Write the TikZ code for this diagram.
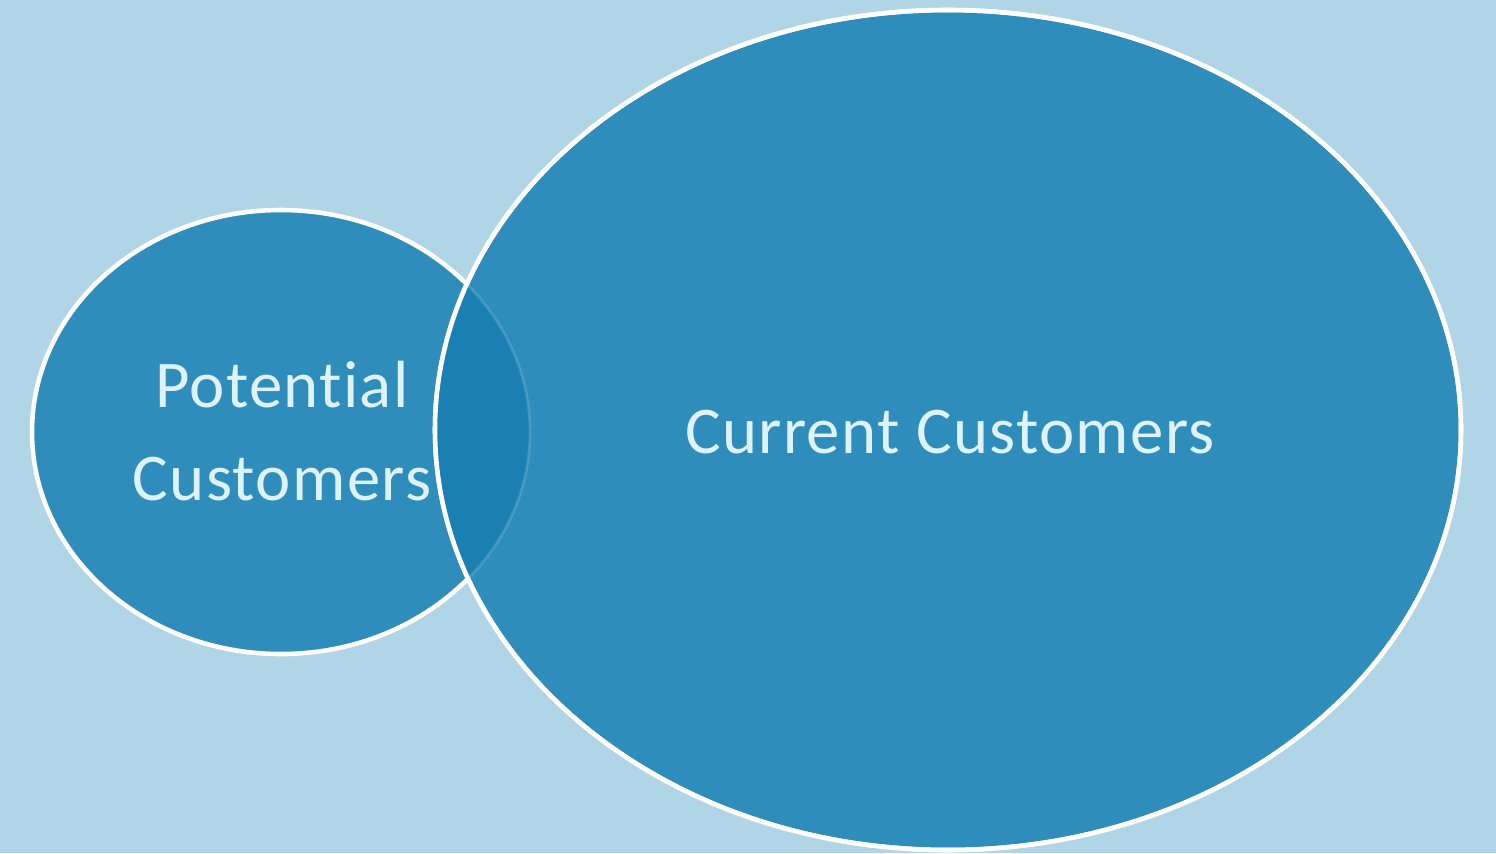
\documentclass[tikz,border=0pt]{standalone}
\usepackage{fontspec}
\setmainfont[Ligatures={NoCommon}, LetterSpace=2]{Carlito}
\usepackage{xcolor}
\usetikzlibrary{positioning,shapes.geometric}
\definecolor{bgblue}{HTML}{B0D5E6}
\definecolor{setblue}{HTML}{2E8DBA}
\definecolor{meetblue}{HTML}{1A80B2}
\definecolor{labelwhite}{HTML}{DDF2FA}
\tikzset{
    setrim/.style={draw=white, line width=1.3pt, fill=setblue},
    setlabel/.style={text=labelwhite, font=\fontsize{19}{26.7}\selectfont, align=center}
}

\begin{document}
\begin{tikzpicture}
    \fill[bgblue] (0, 0) rectangle (14.96, 8.53);
    \useasboundingbox (0, 0) rectangle (14.96, 8.53);
    % the two sets
    \draw[setrim] (2.81, 4.21) ellipse [x radius=2.49, y radius=2.22];
    \draw[setrim] (9.48, 4.23) ellipse [x radius=5.13, y radius=4.20];
    \begin{scope}
        \clip (2.81, 4.21) ellipse [x radius=2.49, y radius=2.22];
        \fill[meetblue] (9.48, 4.23) ellipse [x radius=5.13, y radius=4.20];
    \end{scope}
    \draw[white, opacity=0.15, line width=0.8pt] (2.81, 4.21) ellipse [x radius=2.49, y radius=2.22];
    \draw[white, line width=1.3pt] (9.48, 4.23) ellipse [x radius=5.13, y radius=4.20];
    % labels
    \node[setlabel] (potential) at (2.82, 4.22) {Potential\\Customers};
    \node[setlabel] (current) at (9.50, 4.21) {Current Customers};
\end{tikzpicture}
\end{document}
